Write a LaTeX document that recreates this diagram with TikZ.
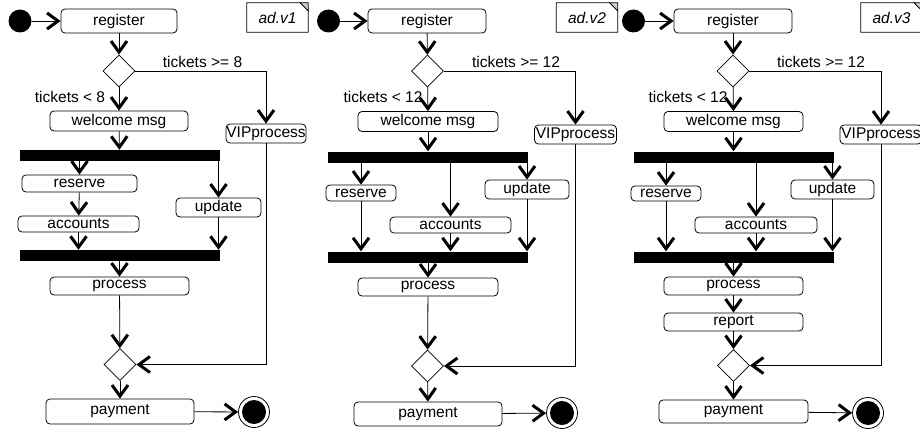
\documentclass[tikz,border=0pt]{standalone}
\usepackage{fontspec}
\setmainfont{Liberation Sans}
\usetikzlibrary{arrows.meta,shapes.geometric}
\begin{document}
\begin{tikzpicture}[x=1pt,y=-1pt,font=\fontsize{15.5}{17}\selectfont,
 act/.style={draw,rounded corners=4pt,inner sep=0pt,line width=0.8pt},
 choice/.style={draw,diamond,minimum width=32pt,minimum height=32pt,inner sep=0pt,line width=0.8pt},
 bar/.style={fill=black,minimum width=200pt,minimum height=11pt,inner sep=0pt},
 start/.style={circle,fill=black,minimum size=23pt,inner sep=0pt},
 stopring/.style={circle,draw,line width=0.8pt,minimum size=31pt,inner sep=0pt},
 stopdot/.style={circle,fill=black,minimum size=24pt,inner sep=0pt},
 flow/.style={-{Straight Barb[length=11pt,width=16pt,line width=3pt]},line width=0.8pt},
 guard/.style={inner sep=0pt},
 adnote/.style={minimum width=61pt,minimum height=29pt,inner sep=0pt,font=\fontsize{15.5}{17}\selectfont\itshape}]
 \clip (0,0) rectangle (920,433);
 \node[start] (s1) at (20,21) {};
 \node[act,minimum width=116pt,minimum height=24pt] (r1) at (119,21) {register};
 \node[choice] (d1) at (119,71) {};
 \node[act,minimum width=80pt,minimum height=19pt] (v1) at (266,133.5) {VIPprocess};
 \node[act,minimum width=138pt,minimum height=20pt] (w1) at (119,121) {welcome msg};
 \node[bar] (f1) at (119.5,155.5) {};
 \node[act,minimum width=115pt,minimum height=17pt] (rs1) at (79.5,183.5) {reserve};
 \node[act,minimum width=85pt,minimum height=19pt] (u1) at (218.5,207.5) {update};
 \node[act,minimum width=121pt,minimum height=16pt] (a1) at (78.5,224) {accounts};
 \node[bar] (j1) at (119.5,255.5) {};
 \node[act,minimum width=139pt,minimum height=18pt] (p1) at (119.5,286) {process};
 \node[choice] (m1) at (120,364.5) {};
 \node[act,minimum width=148pt,minimum height=25pt] (pay1) at (120,411.5) {payment};
 \node[stopring] (e1) at (254,412) {};
 \node[stopdot] (e1dot) at (e1) {};
 \node[adnote] (n1) at (277.5,17.5) {ad.v1};
 \node[guard] (ga1) at (202.5,62) {tickets >= 8};
 \node[guard] (gb1) at (70,97) {tickets < 8};
 \draw[line width=0.8pt] (n1.north west) -- ([xshift=-8pt]n1.north east) -- ([yshift=-8pt]n1.north east) -- (n1.south east) -- (n1.south west) -- cycle;
 \draw[line width=0.6pt,fill=black!20] ([xshift=-8pt]n1.north east) -- ([yshift=-8pt]n1.north east) -- (n1.north east) -- cycle;
 \draw[flow] (s1) -- (r1);
 \draw[flow] (r1) -- (d1);
 \draw[flow] (d1) -| (v1);
 \draw[flow] (d1) -- (w1);
 \draw[flow] (w1) -- (f1);
 \draw[flow] (f1.south -| rs1) -- (rs1);
 \draw[flow] (f1.south -| u1) -- (u1);
 \draw[flow] (rs1) -- (a1);
 \draw[flow] (a1) -- (a1 |- j1.north);
 \draw[flow] (u1) -- (u1 |- j1.north);
 \draw[flow] (j1) -- (p1);
 \draw[flow] (p1) -- (m1);
 \draw[flow] (v1) |- (m1);
 \draw[flow] (m1) -- (pay1);
 \draw[flow] (pay1) -- (e1);
 \node[start] (s2) at (328.5,21) {};
 \node[act,minimum width=118pt,minimum height=24pt] (r2) at (427,21) {register};
 \node[choice] (d2) at (427.5,71) {};
 \node[act,minimum width=82pt,minimum height=19pt] (v2) at (575.5,134.5) {VIPprocess};
 \node[act,minimum width=140pt,minimum height=20pt] (w2) at (428,121.5) {welcome msg};
 \node[bar] (f2) at (428,157) {};
 \node[act,minimum width=70pt,minimum height=16pt] (rs2) at (361,193) {reserve};
 \node[act,minimum width=84pt,minimum height=19pt] (u2) at (527,189.5) {update};
 \node[act,minimum width=121pt,minimum height=16pt] (a2) at (450.5,225) {accounts};
 \node[bar] (j2) at (428,257) {};
 \node[act,minimum width=140pt,minimum height=18pt] (p2) at (428,287) {process};
 \node[choice] (m2) at (427.5,366) {};
 \node[act,minimum width=148pt,minimum height=24pt] (pay2) at (428,414) {payment};
 \node[stopring] (e2) at (562,413) {};
 \node[stopdot] (e2dot) at (e2) {};
 \node[adnote] (n2) at (587,17.5) {ad.v2};
 \node[guard] (ga2) at (516,62) {tickets >= 12};
 \node[guard] (gb2) at (383,97) {tickets < 12};
 \draw[line width=0.8pt] (n2.north west) -- ([xshift=-8pt]n2.north east) -- ([yshift=-8pt]n2.north east) -- (n2.south east) -- (n2.south west) -- cycle;
 \draw[line width=0.6pt,fill=black!20] ([xshift=-8pt]n2.north east) -- ([yshift=-8pt]n2.north east) -- (n2.north east) -- cycle;
 \draw[flow] (s2) -- (r2);
 \draw[flow] (r2) -- (d2);
 \draw[flow] (d2) -| (v2);
 \draw[flow] (d2) -- (w2);
 \draw[flow] (w2) -- (f2);
 \draw[flow] (f2.south -| rs2) -- (rs2);
 \draw[flow] (f2.south -| a2) -- (a2);
 \draw[flow] (f2.south -| u2) -- (u2);
 \draw[flow] (rs2) -- (rs2 |- j2.north);
 \draw[flow] (a2) -- (a2 |- j2.north);
 \draw[flow] (u2) -- (u2 |- j2.north);
 \draw[flow] (j2) -- (p2);
 \draw[flow] (p2) -- (m2);
 \draw[flow] (v2) |- (m2);
 \draw[flow] (m2) -- (pay2);
 \draw[flow] (pay2) -- (e2);
 \node[start] (s3) at (633.5,21) {};
 \node[act,minimum width=118pt,minimum height=24pt] (r3) at (733,21) {register};
 \node[choice] (d3) at (733,71) {};
 \node[act,minimum width=82pt,minimum height=19pt] (v3) at (881,134.5) {VIPprocess};
 \node[act,minimum width=139pt,minimum height=20pt] (w3) at (733.5,121.5) {welcome msg};
 \node[bar] (f3) at (733.5,157) {};
 \node[act,minimum width=70pt,minimum height=15pt] (rs3) at (666,193.5) {reserve};
 \node[act,minimum width=83pt,minimum height=19pt] (u3) at (832.5,189.5) {update};
 \node[act,minimum width=122pt,minimum height=16pt] (a3) at (756,225) {accounts};
 \node[bar] (j3) at (733.5,257) {};
 \node[act,minimum width=139pt,minimum height=18pt] (p3) at (733.5,286) {process};
 \node[act,minimum width=139pt,minimum height=18pt] (rp3) at (733.5,322) {report};
 \node[choice] (m3) at (733.5,365.5) {};
 \node[act,minimum width=149pt,minimum height=23pt] (pay3) at (733.5,411.5) {payment};
 \node[stopring] (e3) at (868,413) {};
 \node[stopdot] (e3dot) at (e3) {};
 \node[adnote] (n3) at (891.5,17.5) {ad.v3};
 \node[guard] (ga3) at (821,62) {tickets >= 12};
 \node[guard] (gb3) at (688,97) {tickets < 12};
 \draw[line width=0.8pt] (n3.north west) -- ([xshift=-8pt]n3.north east) -- ([yshift=-8pt]n3.north east) -- (n3.south east) -- (n3.south west) -- cycle;
 \draw[line width=0.6pt,fill=black!20] ([xshift=-8pt]n3.north east) -- ([yshift=-8pt]n3.north east) -- (n3.north east) -- cycle;
 \draw[flow] (s3) -- (r3);
 \draw[flow] (r3) -- (d3);
 \draw[flow] (d3) -| (v3);
 \draw[flow] (d3) -- (w3);
 \draw[flow] (w3) -- (f3);
 \draw[flow] (f3.south -| rs3) -- (rs3);
 \draw[flow] (f3.south -| a3) -- (a3);
 \draw[flow] (f3.south -| u3) -- (u3);
 \draw[flow] (rs3) -- (rs3 |- j3.north);
 \draw[flow] (a3) -- (a3 |- j3.north);
 \draw[flow] (u3) -- (u3 |- j3.north);
 \draw[flow] (j3) -- (p3);
 \draw[flow] (p3) -- (rp3);
 \draw[flow] (rp3) -- (m3);
 \draw[flow] (v3) |- (m3);
 \draw[flow] (m3) -- (pay3);
 \draw[flow] (pay3) -- (e3);
\end{tikzpicture}
\end{document}
